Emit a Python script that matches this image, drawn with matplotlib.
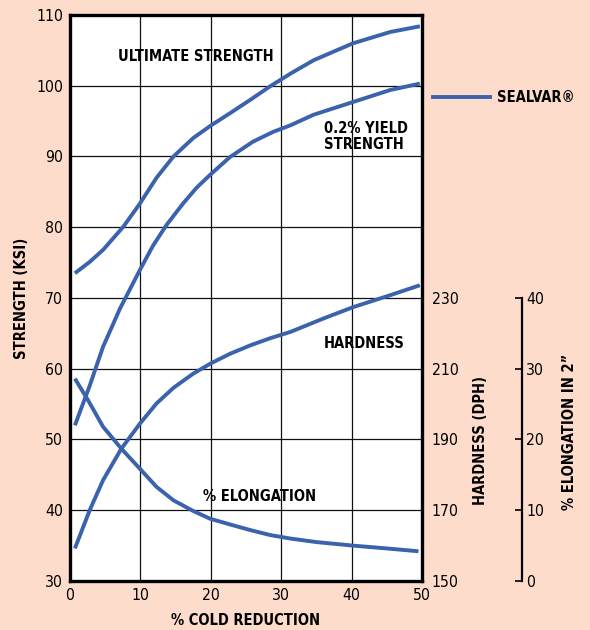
import matplotlib
matplotlib.use('Agg')
import matplotlib.pyplot as plt
from matplotlib import font_manager as fm

# lletra condensada si n'hi ha alguna, si no DejaVu normal (mes petita)
noms = set(f.name for f in fm.fontManager.ttflist)
cond = [f for f in fm.fontManager.ttflist if f.name == 'DejaVu Sans' and 'Condensed' in f.fname]
if 'Liberation Sans Narrow' in noms:
    plt.rcParams['font.family'] = ['Liberation Sans Narrow', 'DejaVu Sans']
    fs_t, fs_b = 11.5, 11.5
elif cond:
    plt.rcParams['font.family'] = ['DejaVu Sans']
    plt.rcParams['font.stretch'] = 'condensed'
    fs_t, fs_b = 11.3, 10.5
else:
    plt.rcParams['font.family'] = ['DejaVu Sans']
    fs_t, fs_b = 10, 9.3

## DADES (llegides del grafic)
# % cold reduction
x_uts = [0.7, 2.8, 4.7, 7.6, 9.9, 12.3, 14.7, 17.5, 19.9, 22.7, 25.6, 28.4, 31.3, 34.6, 40.2, 45.5, 49.7]
uts = [73.5, 75.1, 76.8, 80.1, 83.3, 87.0, 90.0, 92.6, 94.3, 96.1, 98.0, 99.9, 101.7, 103.6, 106.0, 107.6, 108.4]

x_ys = [0.7, 2.8, 4.7, 7.1, 9.9, 11.8, 13.7, 16.1, 18.0, 19.9, 22.7, 26.0, 28.9, 31.3, 34.6, 40.2, 45.5, 49.7]
ys = [52.0, 57.6, 63.1, 68.5, 73.9, 77.4, 80.3, 83.4, 85.6, 87.4, 89.9, 92.1, 93.5, 94.4, 95.9, 97.7, 99.4, 100.3]

x_hard = [0.7, 2.8, 4.7, 7.3, 9.9, 12.3, 14.7, 17.5, 19.9, 22.7, 25.6, 28.4, 31.3, 36.0, 40.2, 45.5, 49.7]
hard = [159.2, 170.0, 178.5, 187.4, 194.4, 200.2, 204.6, 208.6, 211.4, 214.2, 216.6, 218.6, 220.4, 224.2, 227.4, 230.8, 233.6]

x_elong = [0.7, 2.6, 4.7, 7.3, 9.9, 12.3, 14.7, 17.5, 19.9, 22.7, 25.6, 28.4, 31.3, 35.0, 40.2, 45.0, 49.5]
elong = [28.6, 25.5, 21.8, 18.7, 15.9, 13.3, 11.4, 9.9, 8.8, 8.0, 7.2, 6.5, 6.0, 5.5, 5.0, 4.6, 4.2]

x_ticks = [0, 10, 20, 30, 40, 50]
s_ticks = [30, 40, 50, 60, 70, 80, 90, 100, 110]
h_ticks = [150, 170, 190, 210, 230]
e_ticks = [0, 10, 20, 30, 40]

blau = '#3B62AC'
fons = '#FDDCCC'
lw = 2.8

fig = plt.figure(figsize=(5.9, 6.3), dpi=100, facecolor=fons)
ax = fig.add_axes([0.1186, 0.0778, 0.5966, 0.8984])
ax.set_facecolor('white')
ax.set_xlim(0, 50)
ax.set_ylim(30, 110)
ax.set_xticks(x_ticks)
ax.set_yticks(s_ticks)
ax.tick_params(length=0, labelsize=fs_t, pad=5)
ax.grid(color='#111111', linewidth=0.9)
ax.set_axisbelow(True)
for sp in ax.spines.values():
    sp.set_linewidth(2.4)
ax.set_xlabel('% COLD REDUCTION', fontsize=fs_b, fontweight='bold')
ax.xaxis.set_label_coords(0.5, -0.056)
ax.set_ylabel('STRENGTH (KSI)', fontsize=fs_b, fontweight='bold')
ax.yaxis.set_label_coords(-0.115, 0.5)

ax.plot(x_uts, uts, color=blau, linewidth=lw, solid_capstyle='butt', solid_joinstyle='round')
ax.plot(x_ys, ys, color=blau, linewidth=lw, solid_capstyle='butt', solid_joinstyle='round')

# eix de duresa (DPH)
axh = ax.twinx()
axh.set_ylim(150, 310)
axh.set_yticks(h_ticks)
axh.tick_params(length=0, labelsize=fs_t, pad=7)
for sp in axh.spines.values():
    sp.set_visible(False)
axh.plot(x_hard, hard, color=blau, linewidth=lw, solid_capstyle='butt', solid_joinstyle='round')
axh.text(1.165, 0.249, 'HARDNESS (DPH)', transform=axh.transAxes, rotation=90,
         ha='center', va='center', fontsize=fs_b, fontweight='bold')

# eix d'elongacio
axe = ax.twinx()
axe.set_ylim(0, 80)
axe.set_yticks(e_ticks)
axe.spines['right'].set_position(('axes', 1.284))
axe.spines['right'].set_bounds(0, 40)
axe.spines['right'].set_linewidth(1.6)
for k in ['left', 'top', 'bottom']:
    axe.spines[k].set_visible(False)
axe.tick_params(direction='in', length=5, width=1.2, labelsize=fs_t, pad=3)
axe.plot(x_elong, elong, color=blau, linewidth=lw, solid_capstyle='butt', solid_joinstyle='round')
axe.text(1.42, 0.263, '% ELONGATION IN 2\u201d', transform=axe.transAxes, rotation=90,
         ha='center', va='center', fontsize=fs_b, fontweight='bold')

# etiquetes de les corbes
ax.text(6.8, 104.2, 'ULTIMATE STRENGTH', ha='left', va='center', fontsize=fs_b, fontweight='bold')
ax.text(36.1, 92.8, '0.2% YIELD\nSTRENGTH', ha='left', va='center', fontsize=fs_b, fontweight='bold',
        linespacing=1.05)
ax.text(36.0, 63.6, 'HARDNESS', ha='left', va='center', fontsize=fs_b, fontweight='bold')
ax.text(18.85, 41.9, '% ELONGATION', ha='left', va='center', fontsize=fs_b, fontweight='bold')

# llegenda
fig.add_artist(plt.Line2D([433 / 590, 490 / 590], [1 - 97 / 630, 1 - 97 / 630],
                          color=blau, linewidth=lw, transform=fig.transFigure))
fig.text(497 / 590, 1 - 97 / 630, 'SEALVAR\u00ae', ha='left', va='center',
         fontsize=fs_b, fontweight='bold')

plt.savefig('out.png', dpi=100, facecolor=fons)
